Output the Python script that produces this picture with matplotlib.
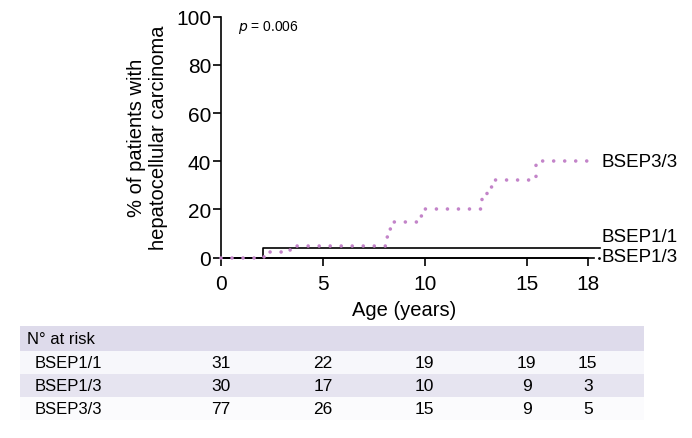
import matplotlib
matplotlib.use("Agg")
import matplotlib.pyplot as plt
from matplotlib.patches import Rectangle
from matplotlib.transforms import blended_transform_factory

plt.rcParams['font.family'] = ['Liberation Sans', 'DejaVu Sans']

# cumulative incidence curves (years, %)
t_11 = [0, 2.05, 18.6]
y_11 = [0, 4.2, 4.2]
t_13 = [0, 18.3]
y_13 = [0, 0]
t_33 = [0, 2.1, 3.3, 3.6, 8.15, 8.3, 8.45, 9.75, 9.9, 12.8, 13.05, 13.25, 13.4, 15.45, 18.0]
y_33 = [0, 2.2, 3.3, 5.0, 8.5, 12.0, 15.0, 17.5, 20.0, 24.5, 27.0, 29.5, 32.2, 40.0, 40.0]

# numbers at risk
risk_times = [0, 5, 10, 15, 18]
risk_groups = ["BSEP1/1", "BSEP1/3", "BSEP3/3"]
risk_11 = [31, 22, 19, 19, 15]
risk_13 = [30, 17, 10, 9, 3]
risk_33 = [77, 26, 15, 9, 5]

purple = "#c384c9"

fig = plt.figure(figsize=(6.92, 4.39), dpi=100)
ax = fig.add_axes([221 / 692, 1 - 258.7 / 439, (587.7 - 221) / 692, (258.7 - 17.6) / 439])

ax.plot(t_13, y_13, color="black", lw=1.2, drawstyle="steps-post", clip_on=False)
ax.plot(t_11, y_11, color="black", lw=1.2, drawstyle="steps-post", clip_on=False)
ax.plot(t_33, y_33, color=purple, lw=2.6, drawstyle="steps-post",
        linestyle=(0, (0.001, 3.05)), dash_capstyle="round", clip_on=False, zorder=3)
ax.plot([18.55], [0], marker=".", ms=2, color="black", clip_on=False)

ax.set_xlim(0, 18)
ax.set_ylim(0, 100)
ax.set_xticks([0, 5, 10, 15, 18])
ax.set_yticks([0, 20, 40, 60, 80, 100])
for s in ["top", "right"]:
    ax.spines[s].set_visible(False)
for s in ["left", "bottom"]:
    ax.spines[s].set_linewidth(1.2)
ax.tick_params(axis="both", labelsize=15, width=1.2, length=6)
ax.tick_params(axis="y", pad=1)
ax.tick_params(axis="x", pad=6)
ax.set_xlabel("Age (years)", fontsize=14.5, labelpad=5)
ax.set_ylabel("% of patients with\nhepatocellular carcinoma", fontsize=14.5, labelpad=6)

ax.text(0.045, 0.995, r"$\it{p}$ = 0.006", transform=ax.transAxes, fontsize=10, va="top")

lbl_x = 18.7
ax.text(lbl_x, 40, "BSEP3/3", fontsize=13.5, va="center", clip_on=False)
ax.text(lbl_x, 9.0, "BSEP1/1", fontsize=13.5, va="center", clip_on=False)
ax.text(lbl_x, 0.3, "BSEP1/3", fontsize=13.5, va="center", clip_on=False)

# at-risk table
tr = blended_transform_factory(ax.transData, fig.transFigure)
x0, x1 = 20 / 692, 644 / 692
rows = [(327, 352, "#dedbeb"), (352, 375, "#f7f7fb"), (375, 398, "#e6e4f0"), (398, 421, "#fbfbfd")]
for top, bot, c in rows:
    fig.patches.append(Rectangle((x0, 1 - bot / 439), x1 - x0, (bot - top) / 439,
                                 transform=fig.transFigure, facecolor=c, edgecolor="none", zorder=0))

fig.text(27 / 692, 1 - 339.5 / 439, "N° at risk", fontsize=12, va="center")
all_risk = [risk_11, risk_13, risk_33]
for i, (name, vals) in enumerate(zip(risk_groups, all_risk)):
    top, bot, _ = rows[i + 1]
    yc = 1 - (top + bot) / 2 / 439
    fig.text(35 / 692, yc, name, fontsize=12, va="center")
    for t, v in zip(risk_times, vals):
        fig.text(t, yc, str(v), fontsize=12.5, va="center", ha="center", transform=tr)

fig.savefig("out.png", dpi=100)
